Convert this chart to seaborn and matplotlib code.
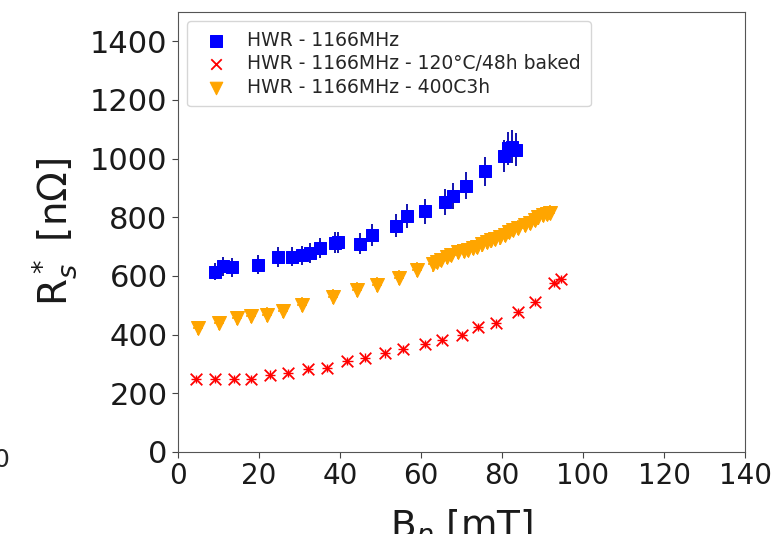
import pandas as pd
import matplotlib
matplotlib.use('Agg')
import matplotlib.pyplot as plt
import seaborn as sns

# HWR - 1166MHz (blue squares)
bp_blue = [9.1, 11.1, 13.3, 19.8, 24.7, 28.2, 30.6, 32.6, 35.1, 38.8, 39.5, 44.9,
           47.9, 53.8, 56.5, 61.0, 65.9, 67.9, 71.1, 75.8, 80.5, 81.5, 82.5, 83.5]
rs_blue = [615, 633, 630, 638, 665, 666, 670, 678, 696, 713, 715, 710,
           740, 772, 805, 820, 852, 872, 908, 957, 1010, 1035, 1040, 1030]
err_blue = [30, 32, 32, 32, 33, 33, 33, 34, 35, 36, 36, 36,
            38, 40, 40, 42, 44, 45, 47, 50, 55, 55, 56, 56]

# HWR - 1166MHz - 120°C/48h baked (red crosses)
bp_red = [4.5, 9.1, 13.8, 18.0, 22.7, 27.2, 32.1, 36.8, 41.8, 46.2, 51.1,
          55.6, 61.0, 65.2, 70.1, 74.1, 78.5, 83.9, 88.1, 92.8, 94.5]
rs_red = [249, 248, 248, 250, 264, 270, 282, 286, 310, 322, 336,
          350, 368, 382, 400, 425, 438, 476, 512, 575, 590]

# HWR - 1166MHz - 400C3h (orange triangles)
bp_org = [4.9, 10.1, 14.6, 18.0, 22.0, 25.9, 30.6, 38.3, 44.2, 49.1, 54.6, 59.0,
          63.0, 63.9, 65.0, 66.4, 67.5, 69.1, 70.5, 71.6, 72.8, 73.8, 75.0, 76.3,
          77.3, 78.3, 79.5, 80.7, 81.8, 82.7, 84.0, 85.7, 86.8, 88.1, 89.0, 90.1,
          91.0, 91.9]
rs_org = [423, 440, 457, 464, 468, 481, 502, 529, 553, 570, 594, 621,
          640, 648, 655, 666, 672, 683, 686, 689, 695, 700, 708, 717,
          722, 727, 732, 740, 750, 758, 765, 775, 782, 792, 800, 809,
          812, 816]

fig = plt.figure(figsize=(7.79, 5.34), dpi=100)
sns.set_style('ticks')
ax = fig.add_axes([0.2285, 0.1536, 0.7279, 0.824])

blue = pd.DataFrame({'Bp': bp_blue, 'Rs': rs_blue, 'err': err_blue})
red = pd.DataFrame({'Bp': bp_red, 'Rs': rs_red})
org = pd.DataFrame({'Bp': bp_org, 'Rs': rs_org})

# error bars first, markers on top
ax.errorbar(blue['Bp'], blue['Rs'], yerr=blue['err'], fmt='none', ecolor='#0000aa', elinewidth=1.3)
ax.errorbar(org['Bp'], org['Rs'], yerr=25, xerr=1.2, fmt='none', ecolor='orange', elinewidth=1.2)
ax.errorbar(red['Bp'], red['Rs'], yerr=14, xerr=1.3, fmt='none', ecolor='red', elinewidth=1.0)

sns.scatterplot(data=blue, x='Bp', y='Rs', marker='s', color='blue', s=80,
                edgecolor='blue', label='HWR - 1166MHz', ax=ax, zorder=3)
sns.scatterplot(data=red, x='Bp', y='Rs', marker='x', color='red', s=70,
                linewidth=1.3, label='HWR - 1166MHz - 120°C/48h baked', ax=ax, zorder=3)
sns.scatterplot(data=org, x='Bp', y='Rs', marker='v', color='orange', s=100,
                edgecolor='orange', label='HWR - 1166MHz - 400C3h', ax=ax, zorder=3)

ax.set_xlim(0, 140)
ax.set_ylim(0, 1500)
ax.set_xticks(range(0, 141, 20))
ax.set_yticks(range(0, 1401, 200))
ax.tick_params(length=4, color='#444444', labelcolor='#1a1a1a')
ax.tick_params(axis='x', labelsize=20)
ax.tick_params(axis='y', labelsize=22)
for s in ax.spines.values():
    s.set_color('#555555')
ax.set_xlabel('B$_p$ [mT]', fontsize=27, labelpad=12, color='#1a1a1a')
ax.set_ylabel('R$_s^*$ [nΩ]', fontsize=28, labelpad=8, color='#1a1a1a')

ax.legend(loc='upper left', fontsize=13.5, markerscale=0.9, borderpad=0.5,
          handletextpad=0.7, labelspacing=0.25)

# cropped leftover from a neighbouring panel
fig.text(-0.008, 0.139, '0', fontsize=18, va='center', ha='left')

fig.savefig('out.png', dpi=100)
